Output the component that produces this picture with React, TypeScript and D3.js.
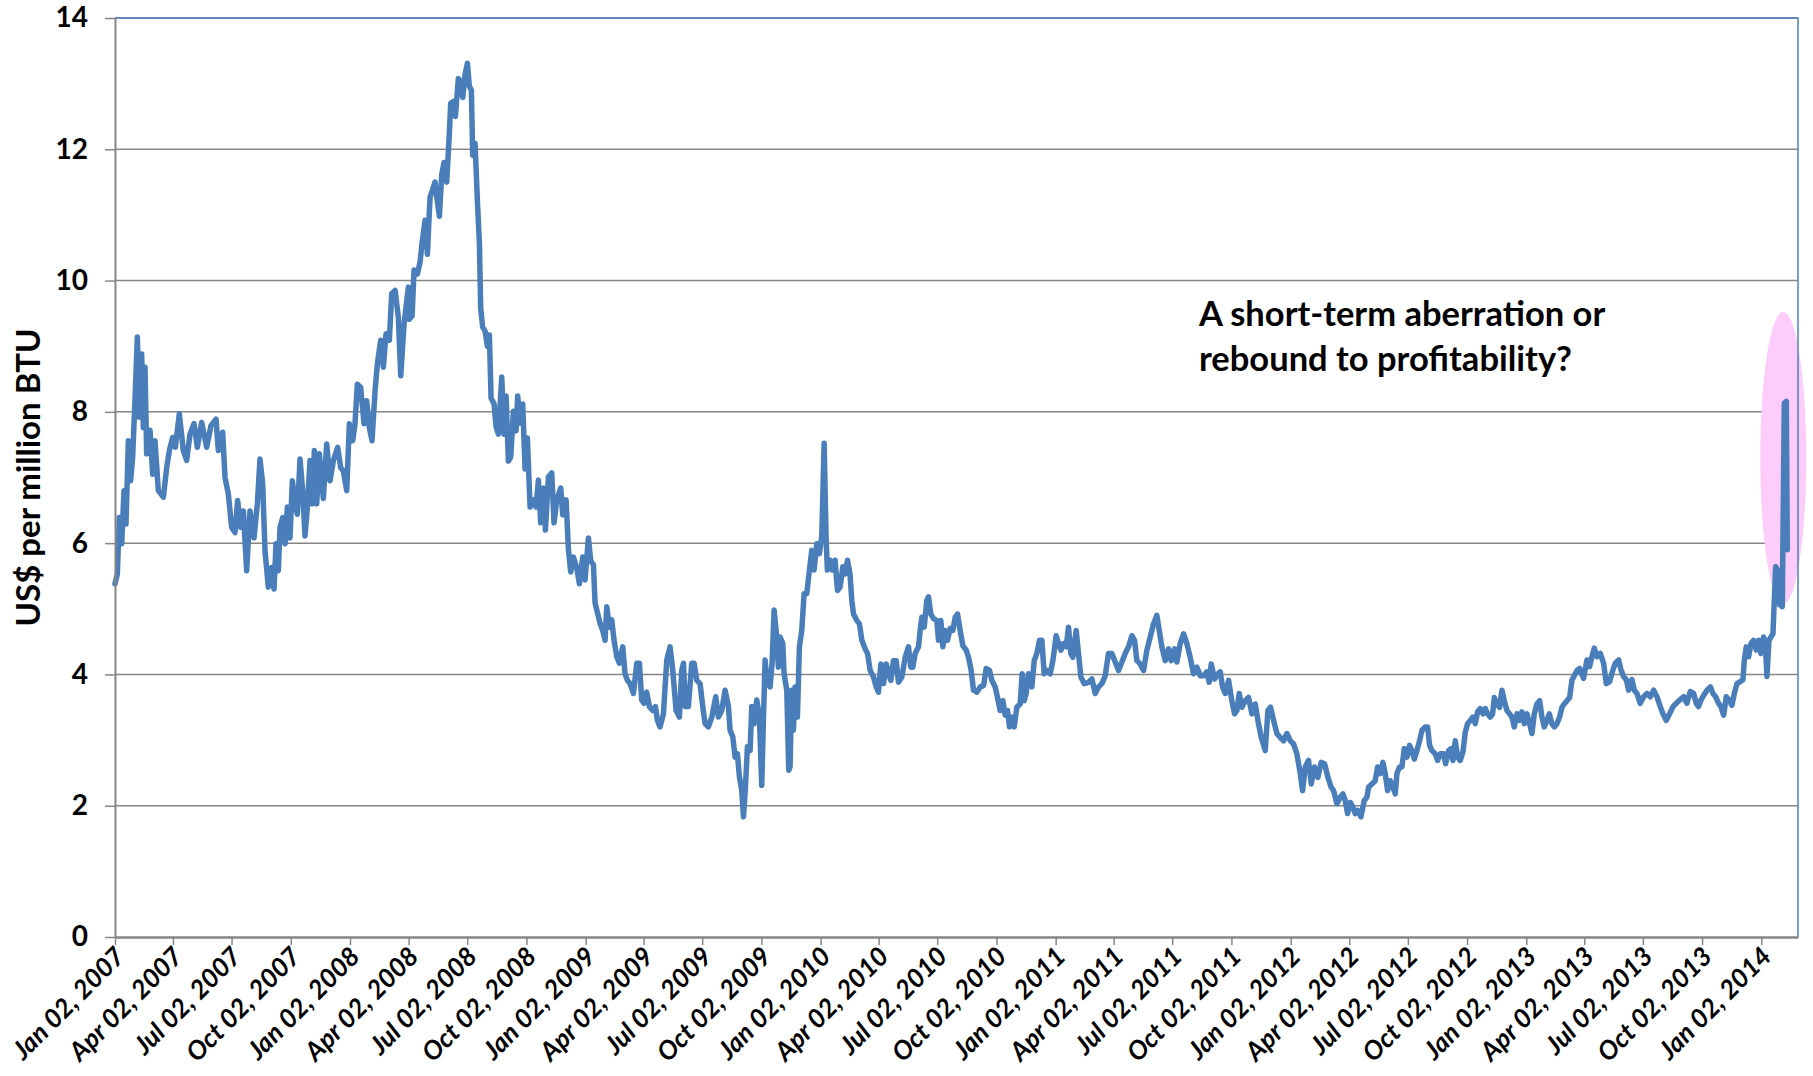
import { axisBottom, axisLeft, line, scaleLinear, scaleTime, select, timeFormat } from 'd3';
import React, { useEffect, useRef } from 'react';

const WIDTH = 1813;
const HEIGHT = 1076;
const MARGIN_TOP = 18;
const MARGIN_RIGHT = 15;
const MARGIN_BOTTOM = 139;
const MARGIN_LEFT = 115;

const FONT = 'Lato, "DejaVu Sans", sans-serif';
const LINE_BLUE = '#4a7ebb';
const GRID_GREY = '#868686';

const START = new Date(2007, 0, 2);
const END_DAY = 2614;

const Y_TICKS = [0, 2, 4, 6, 8, 10, 12, 14];
const X_TICK_COUNT = 29; // Jan 02, 2007 ... Jan 02, 2014, every 3 months
const Y_TITLE = 'US$ per million BTU';
const NOTE_LINES = ['A short-term aberration or', 'rebound to profitability?'];

// Henry Hub spot price: [days since Jan 02 2007, US$ per million BTU]
const prices2007 = [
  [0, 5.38], [3.6, 5.53], [6.7, 6.39], [10.4, 5.99], [14, 6.8], [17.1, 6.29], [20.7, 7.56], [24.3, 6.95],
  [27.4, 7.31], [31, 8.17], [34.7, 9.14], [37.8, 7.92], [41.4, 8.88], [44, 7.76], [46.6, 8.68], [49.2, 7.36],
  [54.4, 7.72], [58.5, 7.05], [62.1, 7.56], [67.3, 6.8], [75.1, 6.7], [80.3, 7.15], [84.4, 7.41], [89.6, 7.61],
  [93.7, 7.46], [99.9, 7.97], [106.1, 7.41], [111.3, 7.26], [116.5, 7.66], [122.7, 7.82], [127.9, 7.46],
  [134.6, 7.84], [142.4, 7.46], [149.1, 7.79], [156.9, 7.89], [160.5, 7.41], [167.2, 7.69], [170.9, 7.0],
  [176, 6.75], [181.2, 6.24], [186.4, 6.16], [190.5, 6.65], [195.2, 6.24], [199.4, 6.49], [204.5, 5.58],
  [209.7, 6.49], [215.9, 6.08], [221.1, 6.6], [225.2, 7.28], [229.4, 6.9], [233, 5.88], [238.2, 5.33],
  [243.4, 5.63], [247, 5.3], [250.1, 5.99], [253.7, 5.58], [256.3, 6.24], [260.5, 6.39], [264.1, 5.99],
  [267.7, 6.55], [271.8, 6.08], [275.5, 6.95], [279.6, 6.6], [283.2, 6.44], [287.4, 7.28], [291.5, 6.8],
  [295.1, 6.11], [298.8, 6.55], [302.9, 7.26], [306.5, 6.6], [309.6, 7.41], [313.3, 6.6], [317.4, 7.36],
  [323.6, 6.68], [328.8, 7.51], [334, 6.95], [339.2, 7.26], [345.9, 7.46], [350.6, 7.15], [354.7, 7.1],
  [359.9, 6.8], [364, 7.82],
];

const prices2008 = [
  [369.2, 7.56], [372.8, 7.82], [376.4, 8.42], [381.6, 8.37], [386.8, 7.82], [390.9, 8.17], [395.1, 7.76],
  [399.2, 7.56], [403.9, 8.32], [407.5, 8.73], [412.7, 9.09], [416.8, 8.68], [421, 9.19], [426.1, 9.09],
  [429.8, 9.8], [435, 9.85], [440.1, 9.44], [443.8, 8.55], [449, 9.34], [455.7, 9.9], [457.2, 9.41],
  [461.4, 9.46], [464.5, 10.16], [469.7, 10.1], [473.8, 10.28], [476.9, 10.57], [481.6, 10.92], [485.2, 10.4],
  [489.3, 11.27], [493.5, 11.39], [497.1, 11.5], [500.7, 11.21], [503.8, 10.98], [507.5, 11.62], [511.1, 11.8],
  [515.2, 11.5], [519.4, 12.26], [521.4, 12.7], [525.6, 12.73], [528.7, 12.5], [533.3, 13.08], [537, 13.02],
  [540.1, 12.79], [543.7, 13.14], [547.3, 13.31], [550.4, 12.96], [553.5, 12.9], [555.6, 11.91], [559.2, 12.09],
  [562.9, 11.21], [566, 10.57], [568, 9.58], [571.1, 9.29], [574.8, 9.23], [578.4, 9.0], [581.5, 9.17],
  [584.1, 8.21], [588.8, 8.12], [591.9, 7.77], [595.5, 7.66], [600.7, 8.53], [604.3, 7.66], [607.4, 8.24],
  [611, 7.25], [614.6, 7.31], [618.8, 8.01], [622.9, 7.71], [625.5, 8.24], [629.1, 7.83], [633.3, 8.12],
  [636.9, 7.13], [640.5, 7.6], [644.7, 6.55], [649.9, 6.66], [654, 6.55], [657.6, 6.96], [661.2, 6.31],
  [665.4, 6.84], [668.5, 6.2], [673.2, 7.01], [678.3, 7.07], [681.9, 6.31], [686.1, 6.66], [692.3, 6.84],
  [695.4, 6.43], [700.6, 6.66], [704.2, 5.91], [707.8, 5.56], [712, 5.79], [717.2, 5.62], [721.3, 5.38],
  [726.5, 5.79],
];

const prices2009 = [
  [730.1, 5.44], [735.3, 6.08], [738.9, 5.73], [743.1, 5.67], [745.6, 5.09], [753.4, 4.78], [757.5, 4.67],
  [761.2, 4.52], [763.8, 5.03], [767.9, 4.72], [771.5, 4.83], [775.1, 4.52], [779.3, 4.27], [783.4, 4.17],
  [788.6, 4.42], [792.2, 4.01], [795.9, 3.91], [800, 3.86], [805.2, 3.71], [810.4, 4.17], [814.5, 4.17],
  [818.1, 3.61], [821.7, 3.56], [825.9, 3.73], [830, 3.51], [835.2, 3.45], [839.4, 3.51], [842.5, 3.3],
  [846.6, 3.2], [851.8, 3.4], [857, 4.22], [862.1, 4.42], [866.3, 4.06], [871.5, 3.45], [876.6, 3.35],
  [880.3, 4.06], [882.9, 4.17], [886, 3.51], [890.6, 3.51], [895.8, 4.17], [899.4, 4.17], [903.6, 3.91],
  [908.7, 3.86], [912.9, 3.51], [916.5, 3.25], [921.7, 3.2], [926.9, 3.35], [933.1, 3.66], [937.2, 3.35],
  [942.4, 3.45], [947.6, 3.76], [952.8, 3.51], [955.3, 3.15], [959.5, 3.05], [963.1, 2.74], [966.7, 2.79],
  [969.8, 2.44], [973.5, 2.23], [976.1, 1.83], [978.6, 2.18], [982.3, 2.9], [986.4, 2.84], [989, 3.51],
  [992.6, 3.25], [996.8, 3.61], [1000.9, 3.35], [1004.5, 2.31], [1007.1, 3.3], [1009.7, 4.22], [1013.3, 3.86],
  [1017.5, 3.81], [1020.6, 4.17], [1023.7, 4.98], [1026.8, 4.67], [1030.4, 4.11], [1033, 4.57], [1037.2, 4.47],
  [1039.2, 4.01], [1043.4, 3.76], [1046.5, 2.54], [1048.5, 2.59], [1051.1, 3.76], [1053.7, 3.15],
  [1056.3, 3.81], [1059.9, 3.35], [1063, 4.42], [1066.7, 4.67], [1070.3, 5.23], [1074.4, 5.23], [1078.6, 5.59],
  [1082.2, 5.89], [1085.8, 5.59], [1090, 5.99], [1094.1, 5.84],
];

const prices2010 = [
  [1097.7, 6.1], [1101.4, 7.52], [1104.5, 6.05], [1106.5, 5.59], [1110.7, 5.74], [1114.3, 5.59],
  [1118.4, 5.74], [1122.1, 5.28], [1126.2, 5.33], [1130.4, 5.64], [1134.1, 5.53], [1137.7, 5.74],
  [1141.6, 5.53], [1144.4, 5.13], [1147, 4.92], [1152.2, 4.82], [1156.3, 4.77], [1160, 4.52], [1165.1, 4.39],
  [1168.8, 4.32], [1172.9, 4.06], [1178.1, 3.96], [1182.2, 3.81], [1185.8, 3.73], [1189.5, 4.16],
  [1193.6, 3.86], [1197.8, 4.16], [1201.4, 4.01], [1205, 3.91], [1209.1, 4.21], [1213.3, 4.21], [1216.9, 3.88],
  [1222.1, 3.96], [1227.3, 4.26], [1232.4, 4.42], [1236.1, 4.11], [1239.2, 4.11], [1242.8, 4.32], [1248, 4.42],
  [1250.6, 4.67], [1253.2, 4.87], [1256.8, 4.72], [1260.9, 5.13], [1263.5, 5.18], [1267.1, 4.92],
  [1271.3, 4.85], [1276.5, 4.82], [1279, 4.52], [1282.7, 4.82], [1285.8, 4.42], [1289.4, 4.67], [1293, 4.52],
  [1297.2, 4.7], [1301.3, 4.67], [1305, 4.87], [1308.6, 4.92], [1312.7, 4.67], [1316.8, 4.44], [1322, 4.37],
  [1325.7, 4.26], [1329.8, 4.06], [1333.4, 3.76], [1338.6, 3.73], [1343.8, 3.81], [1349, 3.83], [1353.1, 4.09],
  [1358.3, 4.06], [1361.9, 3.91], [1367.1, 3.81], [1370.7, 3.65], [1374.8, 3.45], [1379, 3.6], [1382.6, 3.38],
  [1386.2, 3.45], [1389.3, 3.2], [1393, 3.35], [1396.6, 3.2], [1400.7, 3.5], [1405.9, 3.55], [1409, 4.01],
  [1412.1, 3.6], [1415.2, 3.71], [1418.9, 4.01], [1424, 3.81], [1427.7, 4.21], [1431.8, 4.32], [1435.9, 4.52],
  [1439.6, 4.52], [1443.2, 4.01], [1447.3, 4.06], [1452.5, 4.01], [1456.7, 4.21],
];

const prices2011 = [
  [1461.8, 4.59], [1465.5, 4.47], [1469.1, 4.37], [1473.2, 4.47], [1477.4, 4.42], [1481, 4.72], [1484.6, 4.32],
  [1487.7, 4.26], [1492.9, 4.67], [1496.5, 4.32], [1500.2, 3.96], [1505.3, 3.86], [1512.1, 3.88],
  [1517.3, 3.93], [1522.4, 3.71], [1527.6, 3.81], [1532.8, 3.86], [1538, 3.98], [1543.1, 4.32], [1548.3, 4.32],
  [1553.5, 4.19], [1558.7, 4.06], [1563.9, 4.19], [1569, 4.32], [1574.2, 4.42], [1579.4, 4.59], [1583.5, 4.52],
  [1587.2, 4.21], [1592.3, 4.16], [1597.5, 4.06], [1602.7, 4.37], [1607.9, 4.57], [1613, 4.77], [1618.2, 4.9],
  [1621.9, 4.67], [1626, 4.42], [1631.2, 4.21], [1636.4, 4.39], [1640.5, 4.21], [1645.7, 4.39], [1649.3, 4.19],
  [1654.5, 4.47], [1659.7, 4.62], [1664.8, 4.47], [1670, 4.26], [1675.2, 4.01], [1680.4, 4.11], [1685.5, 3.98],
  [1690.7, 3.98], [1695.9, 4.04], [1699.5, 3.88], [1702.6, 4.16], [1707.8, 3.93], [1713, 4.01], [1716.6, 4.04],
  [1720.2, 3.81], [1724.4, 3.71], [1729.6, 3.91], [1734.7, 3.6], [1738.9, 3.4], [1742.5, 3.45], [1746.1, 3.71],
  [1750.3, 3.5], [1755.4, 3.6], [1760.6, 3.65], [1765.8, 3.4], [1771, 3.55], [1775.1, 3.3], [1780.3, 3.04],
  [1786.5, 2.84], [1790.7, 3.45], [1794.8, 3.5], [1799.5, 3.3], [1804.6, 3.1], [1809.8, 3.04], [1815, 2.99],
  [1820.2, 3.1], [1825.3, 2.99],
];

const prices2012 = [
  [1830.5, 2.94], [1835.7, 2.79], [1840.9, 2.49], [1844.5, 2.23], [1848.6, 2.59], [1853.8, 2.69], [1858, 2.33],
  [1863.1, 2.59], [1868.3, 2.43], [1873.5, 2.66], [1878.7, 2.64], [1883.9, 2.43], [1889, 2.28], [1892.7, 2.23],
  [1897.9, 2.03], [1903, 2.13], [1907.2, 2.18], [1910.8, 2.08], [1914.4, 1.88], [1918.6, 2.05], [1922.7, 1.98],
  [1926.3, 1.88], [1930, 1.93], [1935.1, 1.83], [1940.3, 2.08], [1944.5, 2.13], [1947, 2.28], [1952.2, 2.33],
  [1957.4, 2.38], [1961, 2.59], [1965.2, 2.49], [1969.3, 2.66], [1972.9, 2.49], [1976.6, 2.23], [1980.7, 2.38],
  [1984.8, 2.28], [1988.5, 2.18], [1991.1, 2.49], [1995.2, 2.59], [1998.8, 2.59], [2002.5, 2.87], [2006.6, 2.74],
  [2010.7, 2.92], [2014.4, 2.84], [2018, 2.71], [2022.1, 2.84], [2026.3, 2.99], [2029.9, 3.15], [2035.1, 3.2],
  [2038.7, 3.2], [2041.8, 2.92], [2045.4, 2.84], [2050.6, 2.79], [2054.2, 2.69], [2058.4, 2.79], [2063.5, 2.79],
  [2066.7, 2.64], [2071.3, 2.84], [2075, 2.87], [2078.1, 2.69], [2081.7, 2.99], [2085.3, 2.74], [2089.4, 2.69],
  [2093.6, 2.82], [2097.2, 3.12], [2100.8, 3.25], [2105, 3.3], [2109.1, 3.35], [2112.7, 3.25], [2116.4, 3.43],
  [2120.5, 3.48], [2124.7, 3.4], [2128.3, 3.48], [2131.9, 3.4], [2136, 3.35], [2139.7, 3.4], [2142.3, 3.65],
  [2146.4, 3.55], [2150.5, 3.5], [2154.2, 3.76], [2157.8, 3.6], [2161.9, 3.45], [2166.1, 3.4], [2169.7, 3.35],
  [2173.3, 3.2], [2177.5, 3.4], [2181.6, 3.3], [2185.2, 3.43],
];

const prices2013 = [
  [2188.9, 3.25], [2193, 3.4], [2197.1, 3.25], [2200.8, 3.1], [2204.4, 3.4], [2208.5, 3.55], [2212.7, 3.6],
  [2216.3, 3.35], [2219.9, 3.2], [2224.1, 3.3], [2227.7, 3.4], [2231.8, 3.25], [2235.5, 3.2], [2239.6, 3.25],
  [2243.7, 3.35], [2247.4, 3.5], [2251, 3.55], [2255.1, 3.6], [2259.3, 3.65], [2262.9, 3.91], [2266.5, 3.98],
  [2270.7, 4.06], [2274.8, 4.09], [2281, 3.94], [2286.2, 4.22], [2290.3, 4.12], [2294, 4.27], [2297.6, 4.4],
  [2301.7, 4.27], [2306.9, 4.32], [2312.1, 4.17], [2316.2, 3.86], [2321.4, 3.89], [2326.6, 4.07], [2330.2, 4.17],
  [2335.4, 4.22], [2339, 4.07], [2343.1, 3.97], [2347.3, 3.92], [2350.9, 3.76], [2356.1, 3.92], [2359.7, 3.76],
  [2363.9, 3.71], [2369, 3.56], [2374.2, 3.66], [2379.4, 3.71], [2384.6, 3.66], [2389.8, 3.76], [2394.9, 3.66],
  [2400.1, 3.51], [2404.2, 3.4], [2409.4, 3.3], [2414.6, 3.4], [2419.8, 3.51], [2425, 3.56], [2430.1, 3.61],
  [2436.4, 3.66], [2441.5, 3.56], [2446.7, 3.74], [2451.9, 3.71], [2456, 3.56], [2459.6, 3.51], [2463.3, 3.61],
  [2467.4, 3.68], [2472.6, 3.76], [2477.8, 3.81], [2481.9, 3.71], [2486.1, 3.66], [2490.7, 3.56], [2494.3, 3.51],
  [2498.5, 3.38], [2502.6, 3.66], [2506.8, 3.61], [2511.4, 3.53], [2515.1, 3.71], [2519.2, 3.86], [2524.4, 3.89],
  [2528.5, 3.92], [2530.6, 4.22], [2533.7, 4.42], [2537.3, 4.27], [2541, 4.47], [2545.1, 4.52], [2549.2, 4.37],
  [2552.9, 4.52],
];

const prices2014 = [
  [2556.5, 4.32], [2560.6, 4.57], [2563.2, 4.47], [2565.8, 3.97], [2568.9, 4.52], [2572, 4.57], [2575.1, 4.62],
  [2577.2, 5.13], [2579.3, 5.64], [2582.4, 5.59], [2585.5, 5.06], [2587.5, 5.19], [2589.6, 5.03],
  [2592.7, 8.13], [2595.8, 8.16], [2597.4, 5.9],
];

const DAY_MS = 24 * 60 * 60 * 1000;
const dayToDate = (d: number) => new Date(START.getTime() + d * DAY_MS);

const App = (): JSX.Element => {
  const ref = useRef<SVGSVGElement>(null);

  useEffect(() => {
    if (ref.current === null) return;
    ref.current.replaceChildren();

    const series = [
      ...prices2007, ...prices2008, ...prices2009, ...prices2010,
      ...prices2011, ...prices2012, ...prices2013, ...prices2014,
    ].map(([d, v]) => ({ date: dayToDate(d), value: v }));

    const x = scaleTime()
      .domain([START, dayToDate(END_DAY)])
      .range([MARGIN_LEFT, WIDTH - MARGIN_RIGHT]);
    const y = scaleLinear()
      .domain([0, 14])
      .range([HEIGHT - MARGIN_BOTTOM, MARGIN_TOP]);

    const xTicks = Array.from({ length: X_TICK_COUNT }, (_, i) => new Date(2007, i * 3, 2));

    const svg = select(ref.current)
      .attr('width', WIDTH)
      .attr('height', HEIGHT)
      .attr('viewBox', [0, 0, WIDTH, HEIGHT])
      .style('font-family', FONT);

    svg.append('rect').attr('width', WIDTH).attr('height', HEIGHT).attr('fill', '#fff');

    // Horizontal gridlines
    svg
      .append('g')
      .selectAll()
      .data(Y_TICKS.filter((t) => t > 0))
      .join('line')
      .attr('x1', MARGIN_LEFT)
      .attr('x2', WIDTH - MARGIN_RIGHT)
      .attr('y1', (d) => y(d))
      .attr('y2', (d) => y(d))
      .attr('stroke', GRID_GREY)
      .attr('stroke-width', 1.5);

    // Highlight around the 2014 spike
    const spikeTop = prices2014[prices2014.length - 2];
    svg
      .append('ellipse')
      .attr('cx', x(dayToDate(spikeTop[0])) - 3)
      .attr('cy', y(7.3))
      .attr('rx', 23)
      .attr('ry', 146)
      .attr('fill', '#fdccfb');

    // Price line
    svg
      .append('path')
      .datum(series)
      .attr('fill', 'none')
      .attr('stroke', LINE_BLUE)
      .attr('stroke-width', 5.5)
      .attr('stroke-linejoin', 'round')
      .attr('stroke-linecap', 'round')
      .attr(
        'd',
        line<{ date: Date; value: number }>()
          .x((d) => x(d.date))
          .y((d) => y(d.value)),
      );

    // Plot area border (top and right)
    svg
      .append('path')
      .attr('d', `M${MARGIN_LEFT},${y(14)}H${WIDTH - MARGIN_RIGHT}V${y(0)}`)
      .attr('fill', 'none')
      .attr('stroke', '#4f81bd')
      .attr('stroke-width', 1.5);

    // x-axis
    svg
      .append('g')
      .attr('transform', `translate(0, ${y(0)})`)
      .call(
        axisBottom(x)
          .tickValues(xTicks)
          .tickSize(8)
          .tickSizeOuter(0)
          .tickFormat((d) => timeFormat('%b %d, %Y')(d as Date)),
      )
      .call((g) => g.select('.domain').attr('stroke', GRID_GREY).attr('stroke-width', 2.5))
      .call((g) => g.selectAll('.tick line').attr('stroke', GRID_GREY).attr('stroke-width', 1.5))
      .call((g) =>
        g
          .selectAll('.tick text')
          .attr('x', 0)
          .attr('y', 0)
          .attr('dy', 0)
          .attr('transform', 'translate(11, 21) rotate(-45)')
          .attr('text-anchor', 'end')
          .attr('fill', '#000')
          .style('font-family', FONT)
          .style('font-size', '26px')
          .style('font-weight', 'bold')
          .style('font-style', 'italic'),
      );

    // y-axis
    svg
      .append('g')
      .attr('transform', `translate(${MARGIN_LEFT}, 0)`)
      .call(axisLeft(y).tickValues(Y_TICKS).tickSize(10).tickSizeOuter(0).tickPadding(17))
      .call((g) => g.select('.domain').attr('stroke', GRID_GREY).attr('stroke-width', 2))
      .call((g) => g.selectAll('.tick line').attr('stroke', GRID_GREY).attr('stroke-width', 1.5))
      .call((g) =>
        g
          .selectAll('.tick text')
          .attr('fill', '#000')
          .style('font-family', FONT)
          .style('font-size', '28px')
          .style('font-weight', 'bold'),
      );

    // y-axis title
    svg
      .append('text')
      .attr('transform', `translate(40, ${(y(0) + y(14)) / 2}) rotate(-90)`)
      .attr('text-anchor', 'middle')
      .style('font-size', '33px')
      .style('font-weight', 'bold')
      .text(Y_TITLE);

    // Annotation
    svg
      .append('g')
      .selectAll()
      .data(NOTE_LINES)
      .join('text')
      .attr('x', 1199)
      .attr('y', (_, i) => 326 + i * 45)
      .style('font-size', '34.5px')
      .style('font-weight', 'bold')
      .text((d) => d);
  }, [ref]);

  return <svg ref={ref} style={{ position: 'absolute', left: 0, top: 0 }} />;
};

export default App;
